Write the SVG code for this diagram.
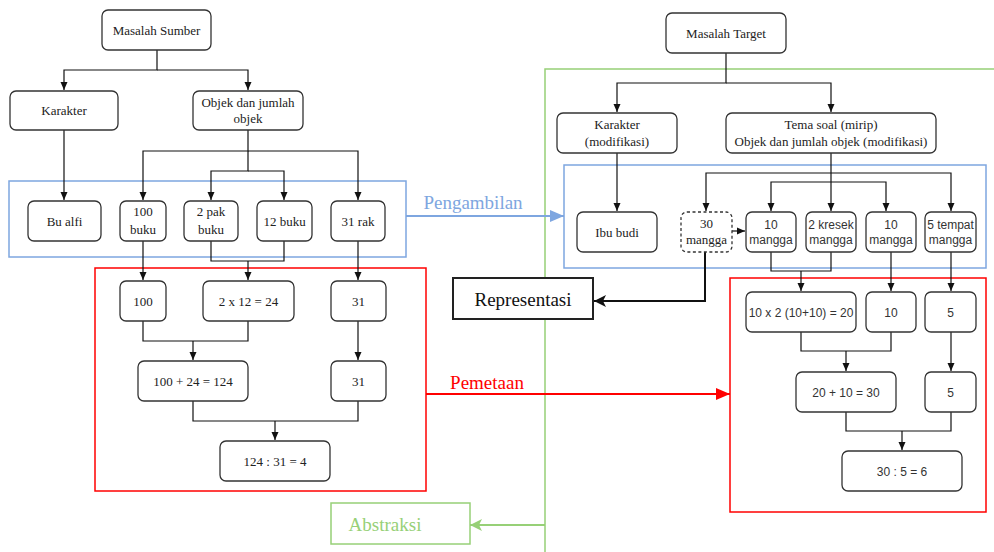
<svg xmlns="http://www.w3.org/2000/svg" width="994" height="552" viewBox="0 0 994 552">
<style>
.node rect{fill:#fff;stroke:#333;stroke-width:1.3}
.serif{font-family:"Liberation Serif","Times New Roman",serif;font-size:13px;fill:#222;text-anchor:middle}
.sans{font-family:"Liberation Sans",Arial,sans-serif;font-size:12px;fill:#333;text-anchor:middle}
.big{font-family:"Liberation Serif","Times New Roman",serif;font-size:19px;text-anchor:middle}
.conn path{fill:none;stroke:#111;stroke-width:1.2}
.conn path.arr{marker-end:url(#ah)}
</style>
<defs>
<marker id="ah" markerUnits="userSpaceOnUse" markerWidth="10" markerHeight="10" refX="8" refY="5" orient="auto">
<path d="M0,1.5 L8,5 L0,8.5 Z" fill="#111"/>
</marker>
<marker id="ahBig" markerUnits="userSpaceOnUse" markerWidth="14" markerHeight="14" refX="12" refY="7" orient="auto">
<path d="M0,1 L12,7 L0,13 L3,7 Z" fill="#111"/>
</marker>
<marker id="ahBlue" markerUnits="userSpaceOnUse" markerWidth="16" markerHeight="16" refX="14" refY="8" orient="auto">
<path d="M0,2 L14,8 L0,14 Z" fill="#7EA6E0"/>
</marker>
<marker id="ahRed" markerUnits="userSpaceOnUse" markerWidth="16" markerHeight="16" refX="14" refY="8" orient="auto">
<path d="M0,2 L14,8 L0,14 Z" fill="#FF0000"/>
</marker>
<marker id="ahGreen" markerUnits="userSpaceOnUse" markerWidth="16" markerHeight="16" refX="12" refY="7" orient="auto">
<path d="M0,1 L12,7 L0,13 L3,7 Z" fill="#97D077"/>
</marker>
</defs>

<!-- frames -->
<g id="frames" fill="none">
<rect x="9" y="181" width="397" height="76" stroke="#7EA6E0" stroke-width="1.5"/>
<rect x="95" y="268" width="331" height="223" stroke="#FF0000" stroke-width="1.5"/>
<rect x="564" y="165" width="422" height="103" stroke="#7EA6E0" stroke-width="1.5"/>
<rect x="730" y="278" width="256" height="234" stroke="#FF0000" stroke-width="1.5"/>
<path d="M994 69 H545 V552" stroke="#97D077" stroke-width="1.5"/>
</g>

<!-- connectors -->
<g id="connectors" class="conn">
<path d="M157 50 V70 H64 V90" class="arr"/>
<path d="M157 70 H248 V90" class="arr"/>
<path d="M64 130 V200" class="arr"/>
<path d="M248 130 V151 H143 V200" class="arr"/>
<path d="M248 151 H358 V200" class="arr"/>
<path d="M248 151 V171 H211 V200" class="arr"/>
<path d="M248 171 H284 V200" class="arr"/>
<path d="M143 241 V280" class="arr"/>
<path d="M211 241 V261 H284 V241"/>
<path d="M248 261 V280" class="arr"/>
<path d="M358 241 V280" class="arr"/>
<path d="M143 321 V341 H248 V321"/>
<path d="M193 341 V360" class="arr"/>
<path d="M358 321 V360" class="arr"/>
<path d="M193 401 V421 H358 V401"/>
<path d="M275 421 V440" class="arr"/>

<path d="M726 53 V83 H617 V112" class="arr"/>
<path d="M726 83 H831 V112" class="arr"/>
<path d="M617 153 V211" class="arr"/>
<path d="M831 153 V211" class="arr"/>
<path d="M831 173 H706 V211" class="arr"/>
<path d="M831 173 H951 V211" class="arr"/>
<path d="M831 182 H771 V211" class="arr"/>
<path d="M831 182 H886 V211" class="arr"/>
<path d="M732 231 H745" class="arr"/>
<path d="M771 252 V271 H831 V252"/>
<path d="M801 271 V291" class="arr"/>
<path d="M891 252 V291" class="arr"/>
<path d="M951 252 V291" class="arr"/>
<path d="M801 332 V351 H891 V332"/>
<path d="M846 351 V371" class="arr"/>
<path d="M951 332 V371" class="arr"/>
<path d="M846 412 V431 H951 V412"/>
<path d="M902 431 V450" class="arr"/>
<path d="M705 252 V301 H594" style="stroke-width:2;marker-end:url(#ahBig)"/>
<path d="M406 216 H564" style="stroke:#7EA6E0;stroke-width:1.8;marker-end:url(#ahBlue)"/>
<path d="M426 394 H730" style="stroke:#FF0000;stroke-width:1.8;marker-end:url(#ahRed)"/>
<path d="M545 525 H470" style="stroke:#97D077;stroke-width:1.8;marker-end:url(#ahGreen)"/>
</g>

<!-- labels on connectors -->
<g id="labels">
<text x="473" y="209" class="big" fill="#7EA6E0">Pengambilan</text>
<text x="487" y="389" class="big" fill="#FF0000">Pemetaan</text>
</g>

<!-- left nodes -->
<g id="masalah-sumber" class="node"><rect x="102" y="10" width="109" height="40" rx="6"/><text x="156.5" y="34.5" class="serif">Masalah Sumber</text></g>
<g id="karakter-l" class="node"><rect x="10" y="91" width="108" height="39" rx="6"/><text x="64" y="115" class="serif">Karakter</text></g>
<g id="objek-l" class="node"><rect x="193" y="91" width="110" height="39" rx="6"/><text x="248" y="106.5" class="serif">Objek dan jumlah</text><text x="248" y="122.5" class="serif">objek</text></g>
<g id="bu-alfi" class="node"><rect x="28" y="201" width="73" height="40" rx="6"/><text x="64.5" y="225.5" class="serif">Bu alfi</text></g>
<g id="100-buku" class="node"><rect x="120" y="201" width="46" height="40" rx="6"/><text x="143" y="216" class="serif">100</text><text x="143" y="233.5" class="serif">buku</text></g>
<g id="2-pak-buku" class="node"><rect x="184" y="201" width="54" height="40" rx="6"/><text x="211" y="216" class="serif">2 pak</text><text x="211" y="233.5" class="serif">buku</text></g>
<g id="12-buku" class="node"><rect x="257" y="201" width="55" height="40" rx="6"/><text x="284.5" y="225.5" class="serif">12 buku</text></g>
<g id="31-rak" class="node"><rect x="331" y="201" width="54" height="40" rx="6"/><text x="358" y="225.5" class="serif">31 rak</text></g>
<g id="n100" class="node"><rect x="120" y="281" width="46" height="40" rx="6"/><text x="143" y="305.5" class="serif">100</text></g>
<g id="n2x12" class="node"><rect x="203" y="281" width="91" height="40" rx="6"/><text x="248.5" y="305.5" class="serif">2 x 12 = 24</text></g>
<g id="n31a" class="node"><rect x="331" y="281" width="55" height="40" rx="6"/><text x="358.5" y="305.5" class="serif">31</text></g>
<g id="n124" class="node"><rect x="138" y="361" width="110" height="40" rx="6"/><text x="193" y="385.5" class="serif">100 + 24 = 124</text></g>
<g id="n31b" class="node"><rect x="331" y="361" width="55" height="40" rx="6"/><text x="358.5" y="385.5" class="serif">31</text></g>
<g id="n124div" class="node"><rect x="220" y="441" width="110" height="40" rx="6"/><text x="275" y="465.5" class="serif">124 : 31 = 4</text></g>

<!-- right nodes -->
<g id="masalah-target" class="node"><rect x="666" y="13" width="120" height="40" rx="6"/><text x="726" y="37.5" class="serif">Masalah Target</text></g>
<g id="karakter-r" class="node"><rect x="557" y="113" width="120" height="40" rx="6"/><text x="617" y="128.5" class="serif">Karakter</text><text x="617" y="145.5" class="serif">(modifikasi)</text></g>
<g id="tema" class="node"><rect x="726" y="113" width="210" height="40" rx="6"/><text x="831" y="128.5" class="serif">Tema soal (mirip)</text><text x="831" y="145.5" class="serif">Objek dan jumlah objek (modifikasi)</text></g>
<g id="ibu-budi" class="node"><rect x="577" y="212" width="80" height="40" rx="6"/><text x="617" y="236.5" class="serif">Ibu budi</text></g>
<g id="30-mangga" class="node"><rect x="681" y="212" width="51" height="40" rx="6" style="stroke-dasharray:3 2.5"/><text x="706.5" y="227.5" class="serif">30</text><text x="706.5" y="244" class="serif">mangga</text></g>
<g id="10-mangga-a" class="node"><rect x="746" y="212" width="50" height="40" rx="6"/><text x="771" y="228.5" class="sans">10</text><text x="771" y="243.5" class="sans">mangga</text></g>
<g id="2-kresek" class="node"><rect x="806" y="212" width="50" height="40" rx="6"/><text x="831" y="228.5" class="sans">2 kresek</text><text x="831" y="243.5" class="sans">mangga</text></g>
<g id="10-mangga-b" class="node"><rect x="866" y="212" width="50" height="40" rx="6"/><text x="891" y="228.5" class="sans">10</text><text x="891" y="243.5" class="sans">mangga</text></g>
<g id="5-tempat" class="node"><rect x="925" y="212" width="51" height="40" rx="6"/><text x="950.5" y="228.5" class="sans">5 tempat</text><text x="950.5" y="243.5" class="sans">mangga</text></g>
<g id="n10x2" class="node"><rect x="746" y="292" width="110" height="40" rx="6"/><text x="801" y="316.5" class="sans">10 x 2 (10+10) = 20</text></g>
<g id="n10" class="node"><rect x="866" y="292" width="50" height="40" rx="6"/><text x="891" y="316.5" class="sans">10</text></g>
<g id="n5a" class="node"><rect x="925" y="292" width="51" height="40" rx="6"/><text x="950.5" y="316.5" class="sans">5</text></g>
<g id="n20" class="node"><rect x="796" y="372" width="100" height="40" rx="6"/><text x="846" y="396.5" class="sans">20 + 10 = 30</text></g>
<g id="n5b" class="node"><rect x="925" y="372" width="51" height="40" rx="6"/><text x="950.5" y="396.5" class="sans">5</text></g>
<g id="n30div" class="node"><rect x="842" y="451" width="120" height="40" rx="6"/><text x="902" y="475.5" class="sans">30 : 5 = 6</text></g>

<!-- label boxes -->
<g id="representasi"><rect x="453" y="278" width="140" height="41" fill="#fff" stroke="#222" stroke-width="2"/><text x="523" y="305.5" class="big" fill="#111">Representasi</text></g>
<g id="abstraksi"><rect x="331" y="503" width="139" height="41" fill="#fff" stroke="#97D077" stroke-width="1.5"/><text x="385" y="530.5" class="big" fill="#97D077">Abstraksi</text></g>
</svg>
